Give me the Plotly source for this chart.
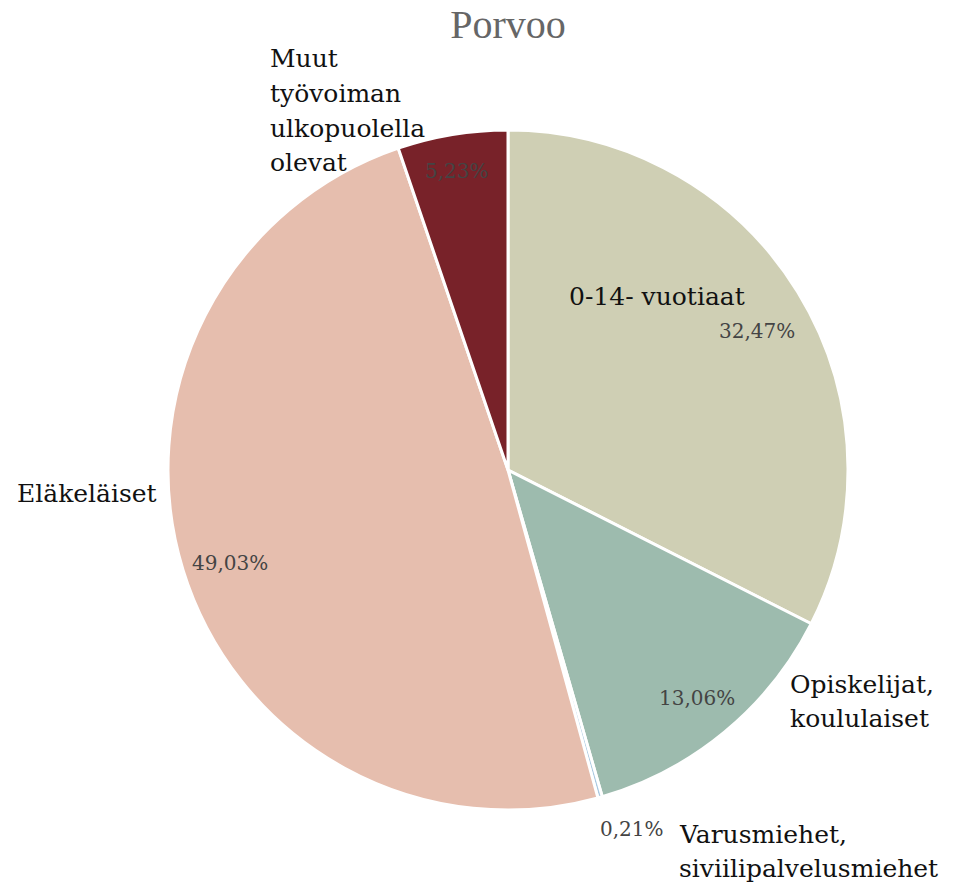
import math
import plotly.graph_objects as go

# ---- data ----
categories = ["0-14- vuotiaat", "Opiskelijat, koululaiset", "Varusmiehet, siviilipalvelusmiehet",
              "Eläkeläiset", "Muut työvoiman ulkopuolella olevat"]
label_lines = [["0-14- vuotiaat"], ["Opiskelijat,", "koululaiset"], ["Varusmiehet,", "siviilipalvelusmiehet"],
               ["Eläkeläiset"], ["Muut", "työvoiman", "ulkopuolella", "olevat"]]
shares = [32.47, 13.06, 0.21, 49.03, 5.23]
colors = ["#CFCFB4", "#9DBBAE", "#A9C8E0", "#E6BEAE", "#782229"]
title_text = "Porvoo"

# ---- layout constants (pixels) ----
W, H = 953, 887
L, R, T, B = 168, 105, 130, 77
PW, PH = W - L - R, H - T - B
CX, CY, RAD = L + PW / 2, T + PH / 2, min(PW, PH) / 2

def px2paper(x, y):
    return (x - L) / PW, (H - B - y) / PH

LABEL_FONT = "Georgia, 'DejaVu Serif', serif"
name_pos = [(567, 305), (788, 693), (677, 843), (15, 502), (268, 68)]
line_gap = 34.5
pct_radius = [0.87, 0.87, 1.11, 0.86, 0.89]
pct_dx = [-3, 0, 22, 2, -2]
pct_dy = [16, 0, -4, 7, 0]

fig = go.Figure(go.Pie(
    labels=categories, values=shares, sort=False, direction="clockwise", rotation=0,
    marker=dict(colors=colors, line=dict(color="white", width=3)),
    textinfo="none", hoverinfo="label+percent", showlegend=False,
))

annotations = []
total = sum(shares)
cum = 0.0
for i, v in enumerate(shares):
    mid = (cum + v / 2) / total * 2 * math.pi
    cum += v
    x = CX + pct_radius[i] * RAD * math.sin(mid) + pct_dx[i]
    y = CY - pct_radius[i] * RAD * math.cos(mid) + pct_dy[i]
    px, py = px2paper(x, y)
    txt = f"{v / total * 100:.2f}".replace(".", ",") + "%"
    annotations.append(dict(x=px, y=py, xref="paper", yref="paper", text=txt, showarrow=False,
                            xanchor="center", yanchor="middle",
                            font=dict(family=LABEL_FONT, size=20, color="#444444")))
    lx, by = name_pos[i]
    for j, line in enumerate(label_lines[i]):
        ax, ay = px2paper(lx, by + j * line_gap - 9)
        annotations.append(dict(x=ax, y=ay, xref="paper", yref="paper", text=line, showarrow=False,
                                xanchor="left", yanchor="middle",
                                font=dict(family=LABEL_FONT, size=25, color="#111111")))

fig.update_layout(
    width=W, height=H, autosize=False,
    margin=dict(l=L, r=R, t=T, b=B),
    paper_bgcolor="white", plot_bgcolor="white",
    title=dict(text=title_text, x=0.5, xref="paper", xanchor="center",
               y=1 - 24 / H, yref="container", yanchor="middle",
               font=dict(family="'Liberation Serif', 'Times New Roman', serif", size=40, color="#666666")),
    annotations=annotations,
)

fig.write_html("out.html", config={"displayModeBar": False},
               post_script="document.body.style.margin='0';document.body.style.overflow='hidden';")
